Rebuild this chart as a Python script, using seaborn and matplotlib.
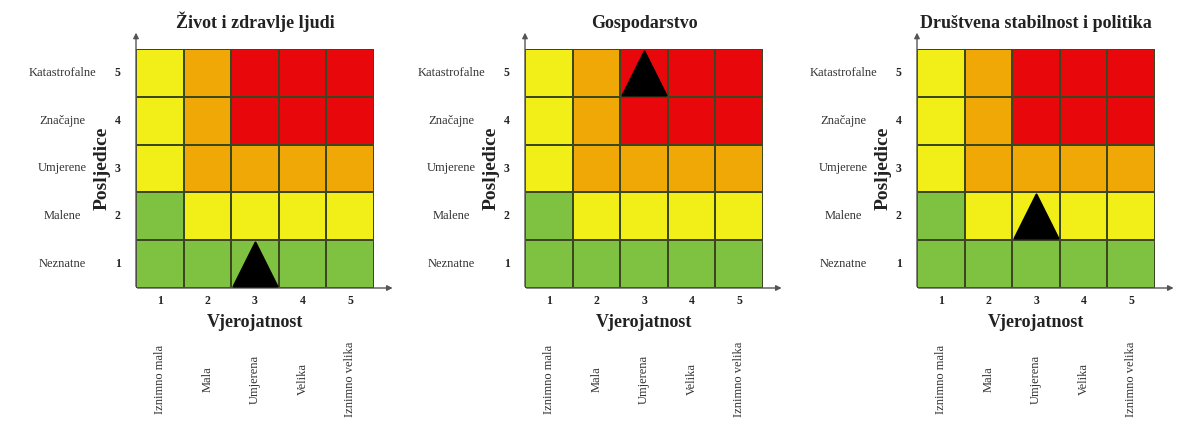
import numpy as np
import pandas as pd
import matplotlib.pyplot as plt
import matplotlib.transforms as mtransforms
import seaborn as sns
from matplotlib.colors import ListedColormap

sns.set_style('white')
plt.rcParams['font.family'] = ['Liberation Serif', 'DejaVu Serif']

titles = ['Život i zdravlje ljudi', 'Gospodarstvo', 'Društvena stabilnost i politika']
likelihood = [1, 2, 3, 4, 5]
consequence = [5, 4, 3, 2, 1]
likelihood_names = ['Iznimno mala', 'Mala', 'Umjerena', 'Velika', 'Iznimno velika']
consequence_names = ['Katastrofalne', 'Značajne', 'Umjerene', 'Malene', 'Neznatne']
# risk level per cell, rows top (5) to bottom (1): 0 green, 1 yellow, 2 orange, 3 red
risk = [[1, 2, 3, 3, 3],
        [1, 2, 3, 3, 3],
        [1, 2, 2, 2, 2],
        [0, 1, 1, 1, 1],
        [0, 0, 0, 0, 0]]
marker_x = [3, 3, 3]
marker_y = [1, 5, 2]

cmap = ListedColormap(['#7fc241', '#f2ee17', '#efa806', '#e8070b'])
df = pd.DataFrame(risk, index=consequence, columns=likelihood)

fig = plt.figure(figsize=(11.82, 4.21), dpi=100)
lefts = [136, 525, 917]
for i, title in enumerate(titles):
    ax = fig.add_axes([lefts[i] / 1182, 133 / 421, 238 / 1182, 239 / 421])
    sns.heatmap(df, ax=ax, cmap=cmap, vmin=-0.5, vmax=3.5, cbar=False,
                linewidths=1.3, linecolor='#3b4720', square=False)
    ax.tick_params(length=0)
    ax.set_xticklabels(likelihood, fontweight='bold', fontsize=8.5, color='#222222')
    ax.set_yticklabels(consequence, fontweight='bold', fontsize=8.5, rotation=0, color='#222222')
    ax.tick_params(axis='y', pad=11)
    ax.tick_params(axis='x', pad=5)
    ax.set_xlabel('Vjerojatnost', fontweight='bold', fontsize=13, labelpad=5, color='#222222')
    ax.set_ylabel('Posljedice', fontweight='bold', fontsize=14, labelpad=3, color='#222222')
    ax.set_title(title, fontweight='bold', fontsize=13, pad=15, color='#222222')

    ytr = mtransforms.blended_transform_factory(ax.transAxes, ax.transData)
    for j, name in enumerate(consequence_names):
        ax.text(-0.31, j + 0.5, name, transform=ytr,
                ha='center', va='center', fontsize=9, color='#333333')
    xtr = mtransforms.blended_transform_factory(ax.transData, fig.transFigure)
    for j, name in enumerate(likelihood_names):
        ax.text(j + 0.5, 1 - 379 / 421, name, transform=xtr,
                ha='center', va='center', rotation=90, fontsize=9, color='#333333')

    ax.annotate('', xy=(0, 1.08), xytext=(0, -0.005), xycoords='axes fraction',
                arrowprops=dict(arrowstyle='-|>', color='#555555', lw=1, mutation_scale=8))
    ax.annotate('', xy=(1.09, 0), xytext=(-0.005, 0), xycoords='axes fraction',
                arrowprops=dict(arrowstyle='-|>', color='#555555', lw=1, mutation_scale=8))

    mx = [marker_x[i] - 0.5]
    my = [5 - marker_y[i] + 0.5]
    sns.scatterplot(x=mx, y=my, ax=ax, marker='^', s=1000, color='black',
                    edgecolor='black', linewidth=1.5, legend=False, clip_on=False, zorder=5)
    ax.set_xlim(0, 5)
    ax.set_ylim(5, 0)

fig.savefig('out.png', dpi=100)
